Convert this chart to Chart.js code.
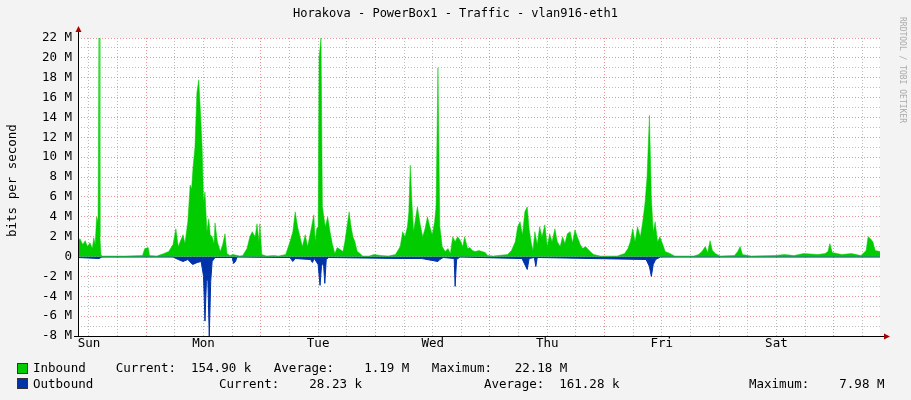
<!DOCTYPE html>
<html><head><meta charset="utf-8">
<script src="https://cdn.jsdelivr.net/npm/chart.js@4"></script>
<style>
body{margin:0;background:#f3f3f3;width:911px;height:400px;overflow:hidden;position:relative;font-family:"DejaVu Sans Mono",monospace;color:#000}
#c{position:absolute;left:0;top:0}
.t{position:absolute;white-space:pre;font-size:12.5px;line-height:14px}
.sq{position:absolute;width:9px;height:9px;border:1px solid #333}
</style></head><body>
<canvas id="c" width="911" height="400"></canvas>
<div class="t" style="left:0;width:911px;text-align:center;top:6px;font-size:12px">Horakova - PowerBox1 - Traffic - vlan916-eth1</div>
<div class="t" style="left:-38px;top:180px;width:100px;text-align:center;transform:rotate(-90deg);font-size:12.5px">bits per second</div>
<div class="t" style="left:852px;top:60px;width:100px;text-align:center;transform:rotate(90deg);font-size:8px;color:#aaa">RRDTOOL / TOBI OETIKER</div>
<div class="sq" style="left:17px;top:363px;background:#00cc00"></div>
<div class="sq" style="left:17px;top:378px;background:#0033aa"></div>
<div class="t" style="left:33px;top:361px">Inbound    Current:  154.90 k   Average:    1.19 M   Maximum:   22.18 M</div>
<div class="t" style="left:33px;top:377px">Outbound</div>
<div class="t" style="left:219px;top:377px">Current:    28.23 k</div>
<div class="t" style="left:484px;top:377px">Average:  161.28 k</div>
<div class="t" style="left:749px;top:377px">Maximum:    7.98 M</div>
<script>
const dayLabels=["Sun","Mon","Tue","Wed","Thu","Fri","Sat"];
const yTickLabels={22:"22 M",20:"20 M",18:"18 M",16:"16 M",14:"14 M",12:"12 M",10:"10 M",8:"8 M",6:"6 M",4:"4 M",2:"2 M",0:"0","-2":"-2 M","-4":"-4 M","-6":"-6 M","-8":"-8 M"};
const inT=[0,0.4,1,1.5,2,2.5,3,3.3,3.6,3.9,4.2,4.4,4.6,4.8,5,10,13.5,14,14.7,15,16.5,18,19,19.9,20.5,21,21.4,22,22.4,23,23.5,23.8,24.1,24.5,24.9,25.3,25.6,26,26.3,26.6,27,27.4,27.7,28.1,28.5,28.7,29.2,29.8,30.3,30.8,31.2,31.8,32.5,33.9,34.5,35.4,36,36.5,37.1,37.5,37.9,38.1,38.5,39.5,41,42,43.5,44.4,45,45.5,46,46.5,47,47.6,48.1,48.6,49,49.4,49.7,50,50.3,50.5,50.9,51.2,51.5,51.8,52.3,52.8,53.3,53.8,54.3,54.9,55.5,55.9,56.4,56.8,57.2,57.6,58,58.5,59.1,59.6,61,62,63.5,65,66.5,67.5,68,68.5,69,69.3,69.6,70,70.3,70.6,71.1,71.7,72.2,72.7,73.2,73.7,74.2,74.7,75.0,75.4,75.8,76.3,76.9,77.5,78,78.5,79,79.5,80,80.6,81,81.6,82.1,82.6,83.2,84,85.3,85.8,87,90,90.8,91.6,92.1,92.6,93.1,93.6,94.1,94.5,94.9,95.3,95.7,96.2,96.7,97.2,97.8,98.3,98.8,99.3,99.9,100.4,101,101.5,102,102.5,103.1,103.6,104.1,104.6,105.2,105.7,106.3,107.3,108,109.4,113,114.5,115.2,115.7,116.2,116.7,117.2,117.8,118.3,118.8,119.2,119.7,120.1,120.5,120.9,121.4,121.9,122.5,123,124,125,129,130,130.7,131.4,131.9,132.4,132.9,133.5,134.5,137.5,138.2,138.7,139.2,141,146,148,150,152,155,156.5,157.1,157.5,158,160,162,164,165.1,165.5,166,166.5,167,168];
const inV=[1.5,1.8,1.2,1.6,1.0,1.4,0.8,1.9,1.2,4.0,3.5,22.2,2,0.2,0.05,0.05,0.1,0.8,0.9,0.1,0.05,0.3,0.5,1.2,2.8,1.0,1.5,2.2,1.3,3.5,7.2,6.8,9.0,11,16.5,17.8,15,11,5.5,6.5,2.5,3.8,2.2,2.0,1.3,3.4,1.5,0.5,1.2,2.3,0.3,0.1,0.2,0.05,0.1,0.8,2.0,2.5,2.0,3.3,1.5,3.3,0.2,0.05,0.1,0.05,0.2,1.5,2.5,4.5,3.0,2.0,1.0,2.2,1.0,2.2,3.2,4.2,1.5,2.8,3.0,20,22,5,4,3.0,4.0,2.5,1.2,0.3,0.9,0.7,0.5,1.5,3.2,4.5,3.0,2.0,1.5,0.5,0.3,0.05,0.05,0.2,0.1,0.05,0.2,1.0,2.5,2.0,3.0,4.5,9.2,5,2.5,3.5,5.0,3.2,2.0,2.8,4.0,3.0,2.2,3.5,5,19,3,1.0,0.5,0.8,0.3,2.0,1.5,2.0,1.7,1.0,2.0,0.8,0.9,0.6,0.5,0.6,0.4,0.1,0.05,0.2,0.6,1.5,3.0,3.5,2.2,4.5,5.0,2.8,1.5,0.6,2.5,1.2,3.0,2.0,3.2,1.0,2.3,1.5,2.8,1.5,1.0,2.0,1.3,2.3,2.5,1.4,2.7,2.0,1.2,0.8,1.0,0.5,0.2,0.05,0.05,0.3,0.8,1.5,2.8,1.5,3.0,2.0,3.5,5.5,8.0,14.2,6,2.5,3.5,1.5,2.0,1.2,0.5,0.3,0.05,0.05,0.2,0.5,1.0,0.4,1.6,0.6,0.3,0.05,0.1,0.5,1.0,0.2,0.05,0.1,0.2,0.1,0.3,0.2,0.3,0.5,1.3,0.4,0.2,0.3,0.1,0.6,2.0,1.8,1.5,0.6,0.5];
const outT=[0,4.4,5,19.9,21,22,23,24,25,25.8,26.3,26.6,26.9,27.2,27.5,27.8,28.1,28.7,32.3,32.6,33,33.3,44.4,45,45.5,48.7,49.1,49.5,50.3,50.7,51,51.4,51.7,52,52.5,68,72,75.4,75.8,76.5,78.8,79,79.3,80,93,94.1,94.5,95.6,95.9,96.2,119,119.7,120.1,120.5,121,122,168];
const outV=[-0.1,-0.2,-0.05,-0.05,-0.3,-0.5,-0.3,-0.8,-0.6,-0.5,-2.0,-6.5,-2.5,-2.3,-8.0,-2.5,-0.5,-0.1,-0.1,-0.7,-0.5,-0.05,-0.1,-0.5,-0.2,-0.3,-0.6,-0.2,-0.8,-2.9,-1,-0.5,-2.7,-0.3,-0.1,-0.2,-0.2,-0.5,-0.3,-0.1,-0.2,-3.0,-0.3,-0.05,-0.2,-1.3,-0.2,-0.1,-1.0,-0.1,-0.3,-1.0,-2.0,-0.8,-0.3,-0.05,-0.05];
const firstNoon=2.3;
const xy=(t,v)=>t.map((x,i)=>({x:x,y:v[i]}));
const axisPlugin={id:'ax',afterDraw(ch){const a=ch.chartArea,c=ch.ctx;c.save();c.strokeStyle='#000';c.fillStyle='#a00';c.lineWidth=1;
const y0=Math.round(ch.scales.y.getPixelForValue(0))+0.5;
c.beginPath();c.moveTo(a.left+0.5,a.top-8);c.lineTo(a.left+0.5,a.bottom);c.moveTo(a.left-4,a.bottom+0.5);c.lineTo(a.right+6,a.bottom+0.5);c.stroke();
c.beginPath();c.moveTo(a.right+10,a.bottom+0.5);c.lineTo(a.right+4,a.bottom-2.5);c.lineTo(a.right+4,a.bottom+3.5);c.fill();
c.beginPath();c.moveTo(a.left+0.5,a.top-12);c.lineTo(a.left-2.5,a.top-6);c.lineTo(a.left+3.5,a.top-6);c.fill();
c.restore();}};
new Chart(document.getElementById('c'),{type:'line',
data:{datasets:[
{label:'Inbound',data:xy(inT,inV),backgroundColor:'#00cc00',borderColor:'#00cc00',borderWidth:0.5,fill:'origin',pointRadius:0,tension:0},
{label:'Outbound',data:xy(outT,outV),backgroundColor:'#0033aa',borderColor:'#0033aa',borderWidth:1,fill:'origin',pointRadius:0,tension:0}]},
options:{responsive:false,animation:false,events:[],
layout:{padding:{left:0,right:31,top:38,bottom:0}},
plugins:{legend:{display:false},tooltip:{enabled:false},
 beforeDraw:{}},
scales:{
x:{type:'linear',min:0,max:168,
 afterBuildTicks(s){const t=[];for(let v=firstNoon;v<168;v+=6)t.push({value:v});s.ticks=t;},
 afterFit(s){s.height=64;},
 ticks:{autoSkip:false,maxRotation:0,padding:0,color:'#000',font:{family:'DejaVu Sans Mono',size:12.5},
  callback(v){const k=Math.round((v-firstNoon)/6);return k%4===0?dayLabels[k/4]:'';}},
 grid:{drawTicks:false,color(c){const k=Math.round((c.tick.value-firstNoon)/6);return k%4===2?'rgba(230,120,120,0.8)':'rgba(170,170,170,0.8)';}},
 border:{display:false,dash:[1,2]}},
y:{min:-8,max:22,
 afterBuildTicks(s){const t=[];for(let v=-8;v<=22;v++)t.push({value:v});s.ticks=t;},
 afterFit(s){s.width=78;},
 ticks:{autoSkip:false,padding:6,color:'#000',font:{family:'DejaVu Sans Mono',size:12.5},callback(v){return yTickLabels[v]||'';}},
 grid:{drawTicks:false,color(c){return c.tick.value%2===0?'rgba(230,120,120,0.8)':'rgba(170,170,170,0.8)';}},
 border:{display:false,dash:[1,2]}}}},
plugins:[{id:'bg',beforeDraw(ch){const a=ch.chartArea,c=ch.ctx;c.save();c.fillStyle='#fff';c.fillRect(a.left,a.top,a.right-a.left,a.bottom-a.top);c.restore();}},axisPlugin]});
</script></body></html>
